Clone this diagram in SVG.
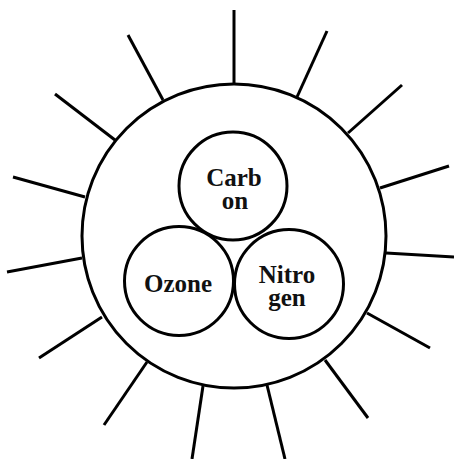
<svg xmlns="http://www.w3.org/2000/svg" width="454" height="459" viewBox="0 0 454 459">
<style>
.c{fill:#fff;stroke:#000;stroke-width:3}
.r{stroke:#000;stroke-width:3;stroke-linecap:butt}
.t{font-family:"Liberation Serif","Times New Roman",serif;font-weight:bold;font-size:25px;fill:#111;text-anchor:middle}
</style>
<rect width="454" height="459" fill="#fff"/>
<g id="rays">
<line class="r" x1="234" y1="10" x2="234" y2="84"/>
<line class="r" x1="327" y1="31" x2="297" y2="97"/>
<line class="r" x1="402" y1="85" x2="348" y2="133"/>
<line class="r" x1="449" y1="166" x2="380" y2="188"/>
<line class="r" x1="454" y1="257" x2="386" y2="253"/>
<line class="r" x1="430" y1="348" x2="367" y2="313"/>
<line class="r" x1="368" y1="418" x2="325" y2="360"/>
<line class="r" x1="285" y1="459" x2="267" y2="385"/>
<line class="r" x1="192" y1="459" x2="203" y2="386"/>
<line class="r" x1="104" y1="425" x2="147" y2="362"/>
<line class="r" x1="39" y1="358" x2="102" y2="317"/>
<line class="r" x1="7" y1="272" x2="82" y2="258"/>
<line class="r" x1="13" y1="177" x2="85" y2="197"/>
<line class="r" x1="55" y1="94" x2="115" y2="140"/>
<line class="r" x1="128" y1="35" x2="163" y2="100"/>
</g>
<g id="outer"><circle class="c" cx="234" cy="236" r="152"/></g>
<g id="carbon"><circle class="c" cx="233" cy="186" r="54"/>
<text class="t" x="234" y="186">Carb</text><text class="t" x="235" y="209">on</text></g>
<g id="ozone"><circle class="c" cx="179" cy="281" r="54.5"/>
<text class="t" x="178" y="292">Ozone</text></g>
<g id="nitrogen"><circle class="c" cx="289" cy="284" r="54.5"/>
<text class="t" x="287" y="283">Nitro</text><text class="t" x="287" y="306">gen</text></g>
</svg>
